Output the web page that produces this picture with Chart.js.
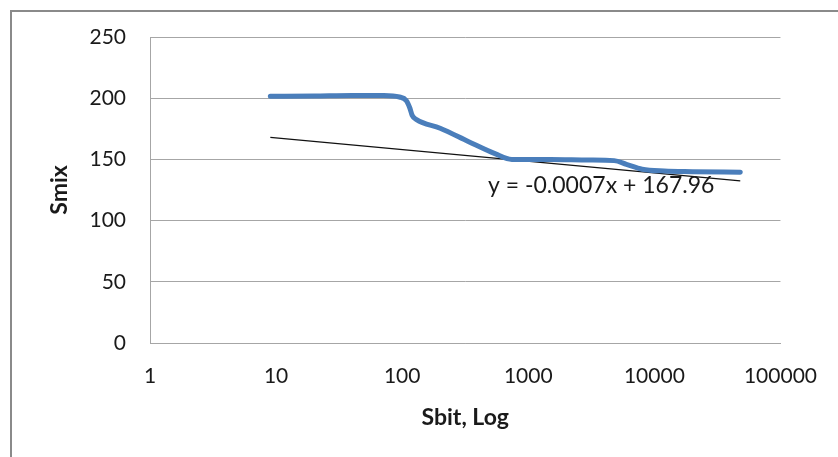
<!DOCTYPE html>
<html>
<head>
<meta charset="utf-8">
<title>Smix vs Sbit</title>
<script src="https://cdn.jsdelivr.net/npm/chart.js@4/dist/chart.umd.min.js"></script>
<style>
  html, body { margin: 0; padding: 0; background: #fff; }
  canvas { display: block; }
</style>
</head>
<body>
<canvas id="smixChart" width="838" height="457"></canvas>
<script>
// Sbit values (log axis) and the smoothed Smix curve
const sbit = [9, 20, 40, 70, 95, 108, 115, 120, 130, 200, 337, 550, 740, 1500, 3000, 4800, 6000, 8000, 12000, 20000, 48000];
const smix = [201.5, 201.8, 202.3, 202.2, 201, 198, 192, 186, 182.5, 175.5, 164.5, 154.5, 150, 150, 149.5, 149, 146, 142, 140.5, 140, 139.5];

// linear trendline end points
const trendX = [9, 48000];
const trendY = [168, 132.5];
const trendLabel = "y = -0.0007x + 167.96";

const xTicks = [1, 10, 100, 1000, 10000, 100000];
const yTicks = [0, 50, 100, 150, 200, 250];

const FONT = "Lato, 'Open Sans', sans-serif";

document.addEventListener("DOMContentLoaded", function () {
  const canvas = document.getElementById("smixChart");
  const ctx = canvas.getContext("2d");

  // outer frame + trendline equation
  const extras = {
    id: "extras",
    beforeDraw(chart) {
      const c = chart.ctx;
      c.save();
      c.fillStyle = "#fff";
      c.fillRect(0, 0, chart.width, chart.height);
      c.strokeStyle = "#8a8a8a";
      c.lineWidth = 2;
      c.strokeRect(11, 11, chart.width + 20, chart.height + 20);
      c.restore();
    },
    afterDatasetsDraw(chart) {
      const a = chart.chartArea;
      const c = chart.ctx;
      c.save();
      c.font = "23px " + FONT;
      c.fillStyle = "#1a1a1a";
      c.textBaseline = "middle";
      c.textAlign = "left";
      c.fillText(trendLabel, a.left + 338, a.top + 149);
      c.restore();
    }
  };

  new Chart(ctx, {
    type: "scatter",
    data: {
      datasets: [
        {
          label: "Smix",
          data: sbit.map((x, i) => ({ x: x, y: smix[i] })),
          showLine: true,
          borderColor: "#4a7ebb",
          borderWidth: 5,
          pointRadius: 0,
          cubicInterpolationMode: "monotone",
          borderCapStyle: "round",
          borderJoinStyle: "round"
        },
        {
          label: "Trend",
          data: trendX.map((x, i) => ({ x: x, y: trendY[i] })),
          showLine: true,
          borderColor: "#111",
          borderWidth: 1.3,
          pointRadius: 0
        }
      ]
    },
    options: {
      responsive: false,
      animation: false,
      devicePixelRatio: 1,
      layout: { padding: { left: 0, top: 37, right: 55, bottom: 0 } },
      plugins: {
        legend: { display: false },
        tooltip: { enabled: false }
      },
      scales: {
        x: {
          type: "logarithmic",
          min: 1,
          max: 100000,
          afterBuildTicks: s => { s.ticks = xTicks.map(v => ({ value: v })); },
          afterFit: s => { s.height = 114; },
          grid: { display: false, drawTicks: false },
          border: { display: true, color: "#a6a6a6", width: 1 },
          ticks: {
            color: "#1a1a1a",
            font: { family: FONT, size: 21 },
            padding: 21,
            maxRotation: 0,
            autoSkip: false,
            callback: v => String(v)
          },
          title: {
            display: true,
            text: "Sbit, Log",
            color: "#1a1a1a",
            font: { family: FONT, size: 23, weight: "bold" },
            padding: { top: 0, bottom: 26 }
          }
        },
        y: {
          min: 0,
          max: 250,
          afterBuildTicks: s => { s.ticks = yTicks.map(v => ({ value: v })); },
          afterFit: s => { s.width = 150; },
          grid: { color: "#a6a6a6", lineWidth: 1, drawTicks: false },
          border: { display: true, color: "#a6a6a6", width: 1 },
          ticks: {
            color: "#1a1a1a",
            font: { family: FONT, size: 21 },
            padding: 24
          },
          title: {
            display: true,
            text: "Smix",
            color: "#1a1a1a",
            font: { family: FONT, size: 23, weight: "bold" },
            padding: { top: 46, bottom: 0 }
          }
        }
      }
    },
    plugins: [extras]
  });
});
</script>
</body>
</html>
